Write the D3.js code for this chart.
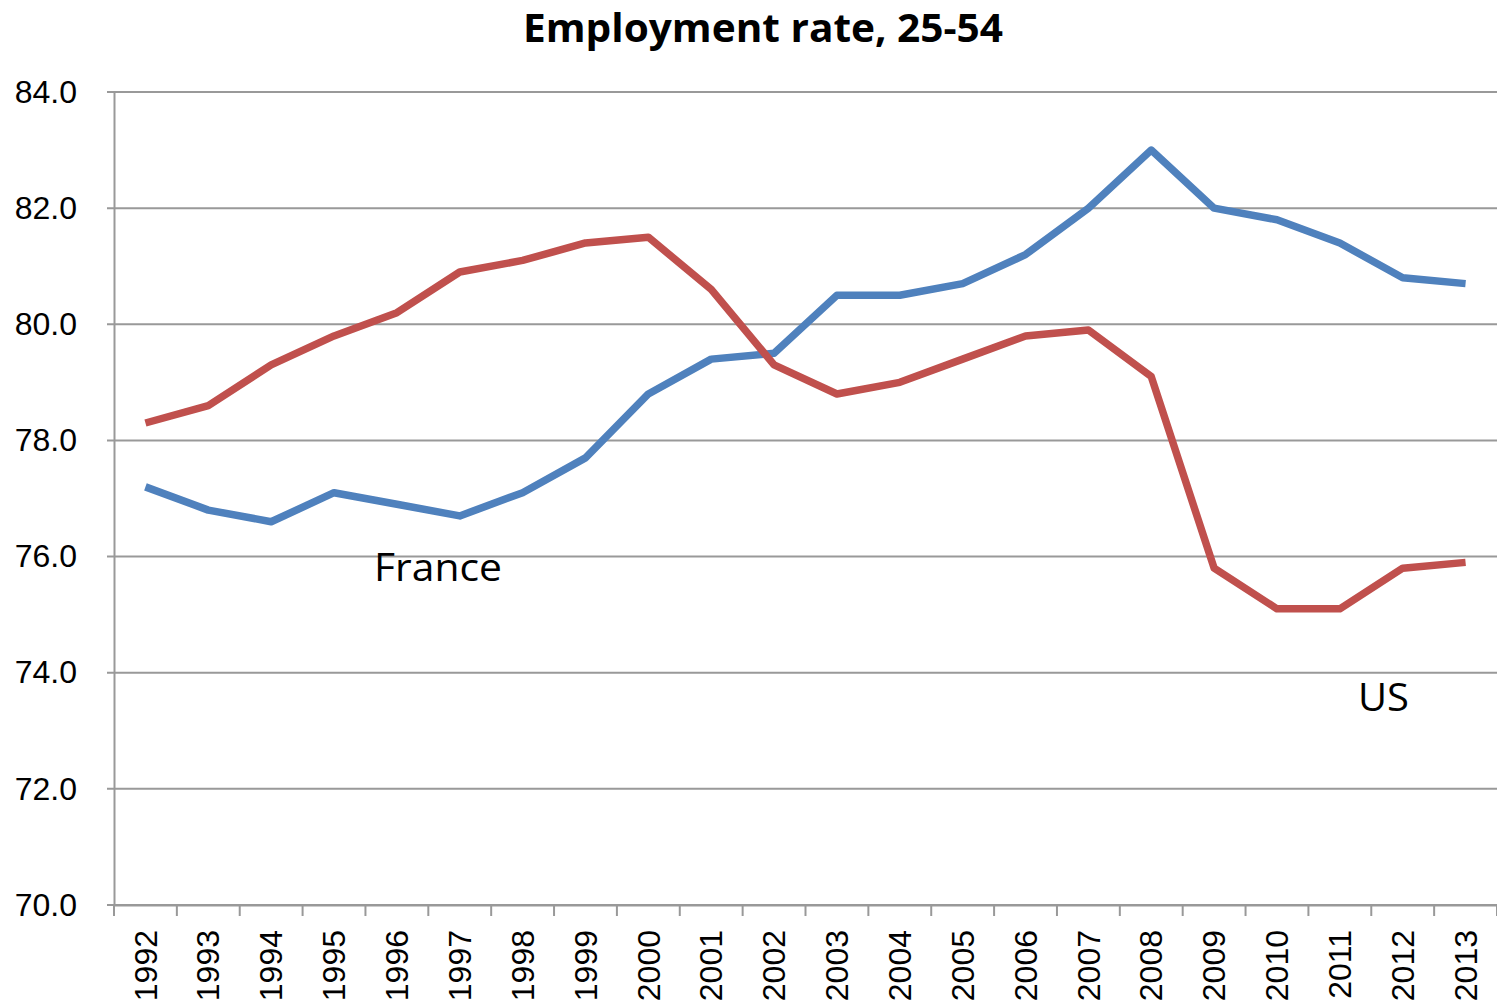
<!DOCTYPE html>
<html>
<head>
<meta charset="utf-8">
<script src="https://cdn.jsdelivr.net/npm/d3@7"></script>
<style>
  body { margin: 0; background: #fff; }
  svg { display: block; }
</style>
</head>
<body>
<svg id="chart" width="1497" height="1006"></svg>
<script>
// data
const years = ['1992', '1993', '1994', '1995', '1996', '1997', '1998', '1999', '2000', '2001', '2002',
  '2003', '2004', '2005', '2006', '2007', '2008', '2009', '2010', '2011', '2012', '2013'];
const franceValues = [77.2, 76.8, 76.6, 77.1, 76.9, 76.7, 77.1, 77.7, 78.8, 79.4, 79.5,
  80.5, 80.5, 80.7, 81.2, 82.0, 83.0, 82.0, 81.8, 81.4, 80.8, 80.7];
const usValues = [78.3, 78.6, 79.3, 79.8, 80.2, 80.9, 81.1, 81.4, 81.5, 80.6, 79.3,
  78.8, 79.0, 79.4, 79.8, 79.9, 79.1, 75.8, 75.1, 75.1, 75.8, 75.9];
const yTicks = [70, 72, 74, 76, 78, 80, 82, 84];

const svg = d3.select('#chart');
const margin = { left: 114, right: 0, top: 92, bottom: 101 };
const width = 1497;
const height = 1006;

const x = d3.scaleBand()
  .domain(years)
  .range([margin.left, width - margin.right]);

const y = d3.scaleLinear()
  .domain([70, 84])
  .range([height - margin.bottom, margin.top]);

// title
svg.append('text')
  .attr('x', 763)
  .attr('y', 42)
  .attr('text-anchor', 'middle')
  .style('font-family', '"Open Sans", sans-serif')
  .style('font-weight', 'bold')
  .style('font-size', '40px')
  .attr('textLength', 480)
  .attr('lengthAdjust', 'spacingAndGlyphs')
  .text('Employment rate, 25-54');

// horizontal grid
svg.append('g')
  .selectAll('line')
  .data(yTicks)
  .join('line')
  .attr('x1', margin.left - 7)
  .attr('x2', width - margin.right)
  .attr('y1', d => y(d))
  .attr('y2', d => y(d))
  .attr('stroke', '#999')
  .attr('stroke-width', 2);

// y axis
const yAxis = d3.axisLeft(y)
  .tickValues(yTicks)
  .tickFormat(d3.format('.1f'))
  .tickSize(0)
  .tickPadding(37);

const gy = svg.append('g')
  .attr('transform', 'translate(' + margin.left + ',0)')
  .call(yAxis);
gy.select('.domain').attr('stroke', '#999').attr('stroke-width', 2);
gy.selectAll('text')
  .style('font-family', '"Liberation Sans", Arial, sans-serif')
  .style('font-size', '32px')
  .attr('fill', '#000');

// x axis
const xAxis = d3.axisBottom(x)
  .tickSize(0)
  .tickSizeOuter(0);

const gx = svg.append('g')
  .attr('transform', 'translate(0,' + y(70) + ')')
  .call(xAxis);
gx.select('.domain').attr('stroke', '#999').attr('stroke-width', 2);
gx.selectAll('.tick text')
  .attr('transform', 'rotate(-90)')
  .attr('text-anchor', 'end')
  .attr('x', -25)
  .attr('y', 0)
  .attr('dy', '0.35em')
  .style('font-family', '"Liberation Sans", Arial, sans-serif')
  .style('font-size', '32px')
  .attr('fill', '#000');

// category boundary ticks
svg.append('g')
  .selectAll('line')
  .data(years.concat(['end']))
  .join('line')
  .attr('x1', (d, i) => i < years.length ? x(d) : x(years[years.length - 1]) + x.bandwidth())
  .attr('x2', (d, i) => i < years.length ? x(d) : x(years[years.length - 1]) + x.bandwidth())
  .attr('y1', y(70))
  .attr('y2', y(70) + 11)
  .attr('stroke', '#999')
  .attr('stroke-width', 2);

// lines
const line = d3.line()
  .x((d, i) => x(years[i]) + x.bandwidth() / 2)
  .y(d => y(d));

svg.append('path')
  .datum(franceValues)
  .attr('fill', 'none')
  .attr('stroke', '#4F81BD')
  .attr('stroke-width', 7.5)
  .attr('stroke-linejoin', 'round')
  .attr('d', line);

svg.append('path')
  .datum(usValues)
  .attr('fill', 'none')
  .attr('stroke', '#C0504D')
  .attr('stroke-width', 7.5)
  .attr('stroke-linejoin', 'round')
  .attr('d', line);

// series labels
svg.append('text')
  .attr('x', 374)
  .attr('y', 581)
  .style('font-family', '"Open Sans", sans-serif')
  .style('font-size', '38px')
  .attr('textLength', 128)
  .attr('lengthAdjust', 'spacingAndGlyphs')
  .text('France');

svg.append('text')
  .attr('x', 1358)
  .attr('y', 711)
  .style('font-family', '"Open Sans", sans-serif')
  .style('font-size', '38px')
  .attr('textLength', 51)
  .attr('lengthAdjust', 'spacingAndGlyphs')
  .text('US');
</script>
</body>
</html>
